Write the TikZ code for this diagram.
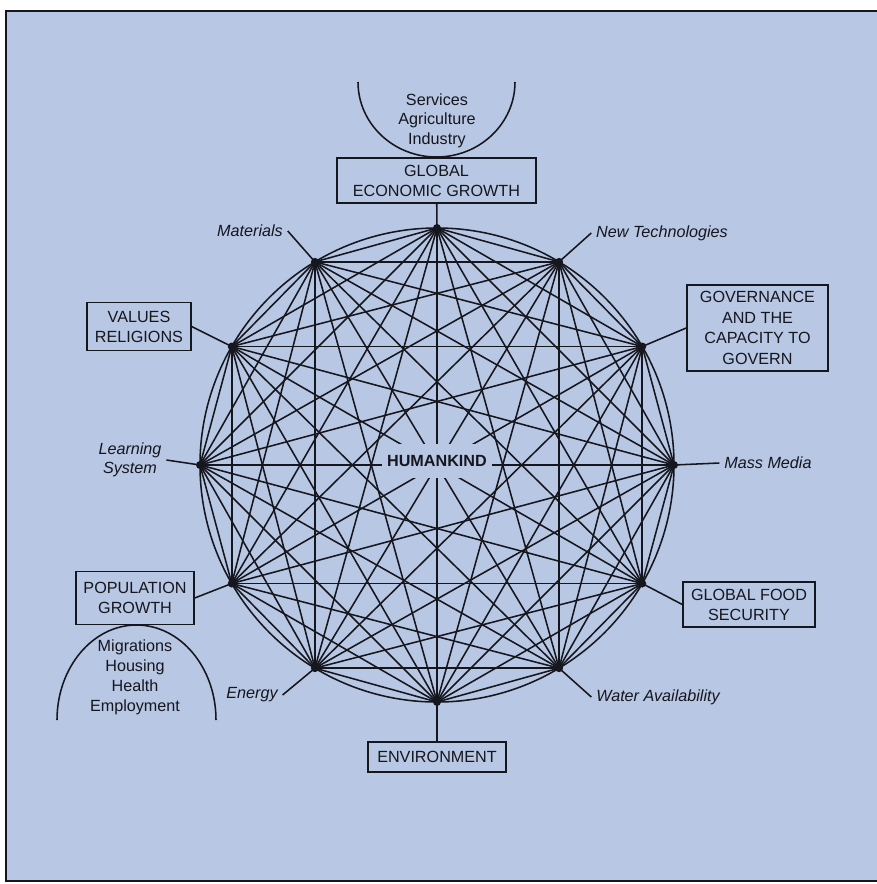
\documentclass[tikz,border=0pt]{standalone}
\usepackage{fontspec}
\setmainfont{Liberation Sans}
\usepackage{tikz}
\usetikzlibrary{calc}
\definecolor{paper}{HTML}{B8C7E3}
\definecolor{ink}{HTML}{16161E}

\begin{document}
\begin{tikzpicture}[x=0.025cm, y=-0.025cm, text=ink, font=\fontsize{11.5}{14.2}\selectfont,
  net/.style={draw=ink, line width=1.1pt},
  box/.style={draw=ink, line width=1pt, align=center, inner sep=0pt},
  tag/.style={align=center, font=\fontsize{11.5}{13.6}\selectfont\itshape}]
\useasboundingbox (0,0) rectangle (877,884);
\fill[white] (0,0) rectangle (877,884);
\draw[ink, line width=2pt, fill=paper] (6,11) rectangle (890,881);
\draw[net] (437,465) circle[radius=237];
\foreach \n/\a in {top/-90, tec/-59, gov/-30, med/0, food/30, wat/59, env/90, ene/121, pop/150, lrn/180, val/210, mat/239}
  \coordinate (\n) at ($(437,465)+(\a:237)$);
\foreach \p [count=\i] in {top,tec,gov,med,food,wat,env,ene,pop,lrn,val,mat}
  \foreach \q [count=\j] in {top,tec,gov,med,food,wat,env,ene,pop,lrn,val,mat}
    {\ifnum\j>\i \draw[net] (\p) -- (\q); \fi}
\foreach \n in {top,tec,gov,med,food,wat,env,ene,pop,lrn,val,mat}
  \fill[ink] (\n) circle[radius=4];
\node[fill=paper, inner xsep=4pt, inner ysep=8pt, font=\fontsize{11.5}{14}\selectfont\bfseries] (hum) at (437,461) {HUMANKIND};

\node[box, minimum width=4.98cm, minimum height=1.13cm] (geg) at (436.5,180.5) {GLOBAL\\ECONOMIC GROWTH};
\node[box, minimum width=2.6cm, minimum height=1.2cm] (vr) at (139,326.5) {VALUES\\RELIGIONS};
\node[box, minimum width=3.53cm, minimum height=2.15cm, font=\fontsize{11.5}{14.7}\selectfont] (gc) at (757.5,328) {GOVERNANCE\\AND THE\\CAPACITY TO\\GOVERN};
\node[box, minimum width=3.3cm, minimum height=1.13cm] (gfs) at (749,604.5) {GLOBAL FOOD\\SECURITY};
\node[box, minimum width=2.95cm, minimum height=1.33cm] (pg) at (135,598) {POPULATION\\GROWTH};
\node[box, minimum width=3.45cm, minimum height=0.75cm] (envb) at (437,757) {ENVIRONMENT};

\node[align=center, font=\fontsize{11.5}{13.9}\selectfont] (sai) at (437,120.5) {Services\\Agriculture\\Industry};
\node[align=center] (mhhe) at (135,677.5) {Migrations\\Housing\\Health\\Employment};
\draw[net] (358,82) arc[start angle=180, end angle=0, x radius=78.5, y radius=75];
\draw[net] (57,720) arc[start angle=180, end angle=360, x radius=79.5, y radius=95];

\node[tag] (matl) at (250,231) {Materials};
\node[tag] (tecl) at (662,233) {New Technologies};
\node[tag] (lrnl) at (130,460) {Learning\\System};
\node[tag] (medl) at (768,463) {Mass Media};
\node[tag] (enel) at (252,695) {Energy};
\node[tag] (watl) at (658,697) {Water Availability};

\draw[net] (geg) -- (top);
\draw[net] (envb) -- (env);
\draw[net] (vr.east) -- (val);
\draw[net] (gc.west) -- (gov);
\draw[net] (gfs.west) -- (food);
\draw[net] (pg.east) -- (pop);
\draw[net] (matl.east) -- (mat);
\draw[net] (tecl.west) -- (tec);
\draw[net] (lrnl.east) -- (lrn);
\draw[net] (medl.west) -- (med);
\draw[net] (enel.east) -- (ene);
\draw[net] (watl.west) -- (wat);
\end{tikzpicture}
\end{document}
